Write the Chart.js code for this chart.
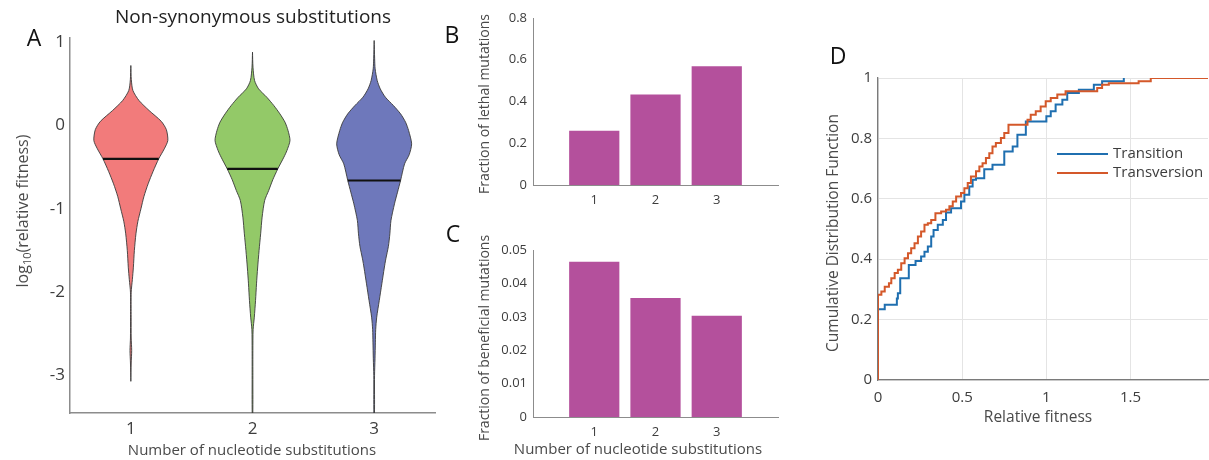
<!DOCTYPE html>
<html>
<head>
<meta charset="utf-8">
<script src="https://cdn.jsdelivr.net/npm/chart.js@4.4.1/dist/chart.umd.min.js"></script>
<style>
  html, body { margin: 0; padding: 0; background: #fff; }
  #fig { position: relative; width: 1209px; height: 460px; overflow: hidden; background: #fff; }
  #fig canvas { position: absolute; }
</style>
</head>
<body>
<div id="fig">
  <canvas id="panelA" width="440" height="460" style="left:0;top:0"></canvas>
  <canvas id="panelB" width="390" height="230" style="left:420px;top:0"></canvas>
  <canvas id="panelC" width="390" height="250" style="left:420px;top:210px"></canvas>
  <canvas id="panelD" width="399" height="460" style="left:810px;top:0"></canvas>
</div>
<script>
// ---- panel A: violin profiles (log10 fitness level -> half width of the violin) ----
const groups = [1, 2, 3];
const groupLabels = ['1', '2', '3'];
const fitnessTicks = [-3, -2, -1, 0, 1];
const medians = [-0.4, -0.52, -0.66];

const levels1 = [0.72, 0.55, 0.42, 0.3, 0.18, 0.05, -0.05, -0.18, -0.28, -0.4, -0.55, -0.7, -0.85, -1.0, -1.15, -1.3, -1.5, -1.7, -1.85, -2.0, -2.3, -2.55, -2.7, -2.85, -3.07];
const halfWidth1 = [0, 0.004, 0.017, 0.067, 0.15, 0.25, 0.292, 0.304, 0.275, 0.229, 0.183, 0.142, 0.108, 0.083, 0.058, 0.042, 0.029, 0.021, 0.0125, 0.003, 0.0025, 0.003, 0.007, 0.003, 0];

const levels2 = [0.88, 0.7, 0.54, 0.44, 0.34, 0.24, 0.14, 0.04, -0.06, -0.18, -0.3, -0.38, -0.52, -0.65, -0.78, -0.9, -1.1, -1.3, -1.5, -1.71, -1.9, -2.1, -2.3, -2.45, -2.7, -3.0, -3.45];
const halfWidth2 = [0, 0.004, 0.017, 0.05, 0.117, 0.175, 0.225, 0.267, 0.292, 0.308, 0.283, 0.258, 0.208, 0.167, 0.133, 0.1, 0.079, 0.067, 0.054, 0.042, 0.033, 0.025, 0.015, 0.005, 0.003, 0.003, 0.0025];

const levels3 = [1.02, 0.8, 0.68, 0.54, 0.44, 0.34, 0.24, 0.14, 0.04, -0.06, -0.22, -0.35, -0.46, -0.66, -0.8, -0.94, -1.14, -1.3, -1.45, -1.6, -1.71, -1.9, -2.1, -2.3, -2.45, -2.6, -2.8, -3.0, -3.45];
const halfWidth3 = [0, 0.004, 0.008, 0.025, 0.05, 0.092, 0.158, 0.217, 0.258, 0.283, 0.308, 0.288, 0.25, 0.217, 0.192, 0.167, 0.138, 0.129, 0.117, 0.096, 0.083, 0.063, 0.042, 0.021, 0.0125, 0.01, 0.007, 0.003, 0.0025];

// ---- panels B and C ----
const lethalFraction = [0.26, 0.433, 0.569];
const lethalTicks = [0, 0.2, 0.4, 0.6, 0.8];
const beneficialFraction = [0.0465, 0.0356, 0.0303];
const beneficialTicks = [0, 0.01, 0.02, 0.03, 0.04, 0.05];

// ---- panel D: empirical CDFs (x = relative fitness where the step happens, y = value after it) ----
const transitionX = [0, 0, 0.04, 0.112, 0.118, 0.132, 0.183, 0.223, 0.256, 0.276, 0.296, 0.316, 0.33, 0.355, 0.385, 0.404, 0.434, 0.493, 0.513, 0.542, 0.562, 0.582, 0.631, 0.68, 0.75, 0.8, 0.828, 0.878, 1.0, 1.026, 1.055, 1.095, 1.124, 1.193, 1.282, 1.331, 1.46];
const transitionY = [0, 0.234, 0.249, 0.27, 0.287, 0.337, 0.381, 0.394, 0.409, 0.425, 0.442, 0.475, 0.497, 0.514, 0.53, 0.555, 0.569, 0.591, 0.613, 0.641, 0.663, 0.668, 0.698, 0.713, 0.757, 0.773, 0.812, 0.856, 0.873, 0.89, 0.912, 0.928, 0.95, 0.961, 0.978, 0.989, 1.0];
const transversionX = [0, 0, 0.02, 0.04, 0.065, 0.079, 0.099, 0.118, 0.138, 0.158, 0.178, 0.197, 0.217, 0.237, 0.256, 0.276, 0.296, 0.316, 0.341, 0.375, 0.404, 0.424, 0.444, 0.464, 0.493, 0.513, 0.533, 0.552, 0.582, 0.602, 0.621, 0.641, 0.661, 0.68, 0.7, 0.73, 0.75, 0.775, 0.888, 0.907, 0.937, 0.966, 0.996, 1.026, 1.065, 1.114, 1.302, 1.331, 1.371, 1.548, 1.62, 1.96];
const transversionY = [0, 0.282, 0.293, 0.309, 0.32, 0.337, 0.354, 0.365, 0.387, 0.403, 0.42, 0.436, 0.453, 0.475, 0.492, 0.514, 0.519, 0.53, 0.552, 0.558, 0.564, 0.575, 0.591, 0.608, 0.619, 0.635, 0.652, 0.674, 0.691, 0.707, 0.718, 0.735, 0.751, 0.773, 0.785, 0.801, 0.818, 0.845, 0.862, 0.878, 0.89, 0.906, 0.923, 0.934, 0.945, 0.956, 0.967, 0.978, 0.983, 0.989, 1.0, 1.0];
const fitnessAxisTicks = [0, 0.5, 1, 1.5];
const cdfTicks = [0, 0.2, 0.4, 0.6, 0.8, 1];

const FONT = '"Open Sans", "Noto Sans", sans-serif';
const TICK = '#3d3d3d';
const LABEL = '#4a4a4a';
const BAR = '#b4509c';

// free text (titles, panel letters, axis titles with subscripts)
const panelText = {
  id: 'panelText',
  afterDraw(chart, args, opts) {
    const ctx = chart.ctx;
    (opts.items || []).forEach(item => {
      const runs = item.runs || [{ text: item.text, size: item.size }];
      ctx.save();
      ctx.translate(item.x, item.y);
      if (item.rotate) ctx.rotate(item.rotate);
      ctx.textBaseline = 'middle';
      ctx.textAlign = 'left';
      ctx.fillStyle = item.color || LABEL;
      let total = 0;
      runs.forEach(r => { ctx.font = r.size + 'px ' + FONT; total += ctx.measureText(r.text).width; });
      let x = item.align === 'left' ? 0 : -total / 2;
      runs.forEach(r => {
        ctx.font = r.size + 'px ' + FONT;
        ctx.fillText(r.text, x, r.dy || 0);
        x += ctx.measureText(r.text).width;
      });
      ctx.restore();
    });
  }
};

// legend without a box: a line sample followed by the series name
const lineLegend = {
  id: 'lineLegend',
  afterDraw(chart, args, opts) {
    if (opts.x === undefined) return;
    const ctx = chart.ctx;
    chart.data.datasets.forEach((ds, i) => {
      const y = opts.y + i * opts.rowHeight;
      ctx.save();
      ctx.strokeStyle = ds.borderColor;
      ctx.lineWidth = ds.borderWidth;
      ctx.beginPath();
      ctx.moveTo(opts.x, y);
      ctx.lineTo(opts.x + opts.lineLength, y);
      ctx.stroke();
      ctx.fillStyle = TICK;
      ctx.font = opts.size + 'px ' + FONT;
      ctx.textBaseline = 'middle';
      ctx.fillText(ds.label, opts.x + opts.lineLength + 5, y);
      ctx.restore();
    });
  }
};

Chart.register(panelText, lineLegend);
Chart.defaults.animation = false;
Chart.defaults.responsive = false;
Chart.defaults.plugins.legend.display = false;
Chart.defaults.plugins.tooltip.enabled = false;

function fixedTicks(values) {
  return scale => { scale.ticks = values.map(v => ({ value: v })); };
}

function violinOutline(center, levels, halfWidths) {
  const left = levels.map((y, i) => ({ x: center - halfWidths[i], y: y }));
  const right = levels.map((y, i) => ({ x: center + halfWidths[i], y: y })).reverse();
  return left.concat(right);
}

function widthAt(levels, halfWidths, y) {
  for (let i = 1; i < levels.length; i++) {
    if (y <= levels[i - 1] && y >= levels[i]) {
      const t = (levels[i - 1] - y) / (levels[i - 1] - levels[i]);
      return halfWidths[i - 1] + t * (halfWidths[i] - halfWidths[i - 1]);
    }
  }
  return 0;
}

// ---------------- A ----------------
const violins = [
  { levels: levels1, widths: halfWidth1, color: '#f27b7b' },
  { levels: levels2, widths: halfWidth2, color: '#93c968' },
  { levels: levels3, widths: halfWidth3, color: '#6e78bb' }
];

// order: lower numbers are painted on top, so medians sit over the bodies
const violinSets = violins.map((v, i) => ({
  data: violinOutline(groups[i], v.levels, v.widths),
  order: 2,
  showLine: true,
  fill: 'shape',
  backgroundColor: v.color,
  borderColor: '#3a3a3a',
  borderWidth: 0.9,
  pointRadius: 0,
  tension: 0.25
}));

const medianSets = violins.map((v, i) => {
  const w = widthAt(v.levels, v.widths, medians[i]);
  return {
    data: [{ x: groups[i] - w, y: medians[i] }, { x: groups[i] + w, y: medians[i] }],
    order: 1,
    showLine: true,
    borderColor: '#111',
    borderWidth: 2.2,
    pointRadius: 0
  };
});

new Chart(document.getElementById('panelA'), {
  type: 'scatter',
  data: { datasets: violinSets.concat(medianSets) },
  options: {
    layout: { padding: { top: 38, right: 5, left: 0, bottom: 0 } },
    scales: {
      x: {
        type: 'linear', min: 0.5, max: 3.5,
        afterBuildTicks: fixedTicks(groups),
        afterFit: s => { s.height = 47; },
        grid: { display: false, drawTicks: false },
        border: { color: '#8c8c8c', width: 1.5 },
        ticks: { color: TICK, padding: 6, font: { family: FONT, size: 17 }, callback: (v, i) => groupLabels[i] }
      },
      y: {
        type: 'linear', min: -3.45, max: 1.05,
        afterBuildTicks: fixedTicks(fitnessTicks),
        afterFit: s => { s.width = 70; },
        grid: { display: false, drawTicks: false },
        border: { color: '#8c8c8c', width: 1.5 },
        ticks: { color: TICK, padding: 5, font: { family: FONT, size: 17 }, callback: v => String(v) }
      }
    },
    plugins: {
      panelText: {
        items: [
          { text: 'A', x: 34, y: 39, size: 23, color: '#111' },
          { text: 'Non-synonymous substitutions', x: 253, y: 18, size: 19, color: '#222' },
          { text: 'Number of nucleotide substitutions', x: 252, y: 451, size: 15 },
          { x: 23, y: 211, rotate: -Math.PI / 2, runs: [
            { text: 'log', size: 16 },
            { text: '10', size: 11, dy: 5 },
            { text: '(relative fitness)', size: 16 }
          ] }
        ]
      }
    }
  }
});

// ---------------- B and C ----------------
function barPanel(id, values, ticks, maxY, opts) {
  return new Chart(document.getElementById(id), {
    type: 'bar',
    data: {
      datasets: [{
        data: values.map((v, i) => ({ x: groups[i], y: v })),
        backgroundColor: BAR,
        categoryPercentage: 1,
        barPercentage: 0.82
      }]
    },
    options: {
      layout: { padding: { top: opts.top, right: 32, left: 0, bottom: 0 } },
      scales: {
        x: {
          type: 'linear', min: 0, max: 4, offset: false,
          afterBuildTicks: fixedTicks(groups),
          afterFit: s => { s.height = opts.xHeight; },
          grid: { display: false, drawTicks: false },
          border: { color: '#8c8c8c', width: 1 },
          ticks: { color: TICK, padding: 7, font: { family: FONT, size: 13 }, callback: (v, i) => groupLabels[i] }
        },
        y: {
          type: 'linear', min: 0, max: maxY,
          afterBuildTicks: fixedTicks(ticks),
          afterFit: s => { s.width = 113; },
          grid: { display: false, drawTicks: false },
          border: { color: '#8c8c8c', width: 1 },
          ticks: { color: TICK, padding: 6, font: { family: FONT, size: 13 }, callback: v => String(+v.toFixed(2)) }
        }
      },
      plugins: { panelText: { items: opts.text } }
    }
  });
}

barPanel('panelB', lethalFraction, lethalTicks, 0.8, {
  top: 18, xHeight: 45,
  text: [
    { text: 'B', x: 32, y: 36, size: 23, color: '#111' },
    { text: 'Fraction of lethal mutations', x: 65, y: 104, size: 14, rotate: -Math.PI / 2 }
  ]
});

barPanel('panelC', beneficialFraction, beneficialTicks, 0.05, {
  top: 40, xHeight: 43,
  text: [
    { text: 'C', x: 33, y: 25, size: 23, color: '#111' },
    { text: 'Fraction of beneficial mutations', x: 65, y: 128, size: 14, rotate: -Math.PI / 2 },
    { text: 'Number of nucleotide substitutions', x: 218, y: 240, size: 15 }
  ]
});

// ---------------- D ----------------
const toPoints = (xs, ys) => xs.map((x, i) => ({ x: x, y: ys[i] }));

new Chart(document.getElementById('panelD'), {
  type: 'scatter',
  data: {
    datasets: [
      { label: 'Transition', data: toPoints(transitionX, transitionY), order: 2, showLine: true, stepped: 'before',
        borderColor: '#1f6fb0', borderWidth: 2, pointRadius: 0 },
      { label: 'Transversion', data: toPoints(transversionX, transversionY), order: 1, showLine: true, stepped: 'before',
        borderColor: '#d4582a', borderWidth: 2, pointRadius: 0 }
    ]
  },
  options: {
    layout: { padding: { top: 78, right: 1, left: 0, bottom: 0 } },
    scales: {
      x: {
        type: 'linear', min: 0, max: 1.96,
        afterBuildTicks: fixedTicks(fitnessAxisTicks),
        afterFit: s => { s.height = 80; },
        grid: { color: '#e4e4e4', lineWidth: 1, drawTicks: false },
        border: { color: '#7a7a7a', width: 1.3 },
        ticks: { color: TICK, padding: 9, font: { family: FONT, size: 15 }, callback: v => String(v) }
      },
      y: {
        type: 'linear', min: 0, max: 1,
        afterBuildTicks: fixedTicks(cdfTicks),
        afterFit: s => { s.width = 68; },
        grid: { color: '#e4e4e4', lineWidth: 1, drawTicks: false },
        border: { color: '#7a7a7a', width: 1.3 },
        ticks: { color: TICK, padding: 6, font: { family: FONT, size: 15 }, callback: v => String(+v.toFixed(1)) }
      }
    },
    plugins: {
      lineLegend: { x: 247, y: 154, rowHeight: 19, lineLength: 51, size: 15 },
      panelText: {
        items: [
          { text: 'D', x: 28, y: 57, size: 23, color: '#111' },
          { text: 'Relative fitness', x: 228, y: 418, size: 15.5 },
          { text: 'Cumulative Distribution Function', x: 24, y: 233, size: 15.5, rotate: -Math.PI / 2 }
        ]
      }
    }
  }
});
</script>
</body>
</html>
